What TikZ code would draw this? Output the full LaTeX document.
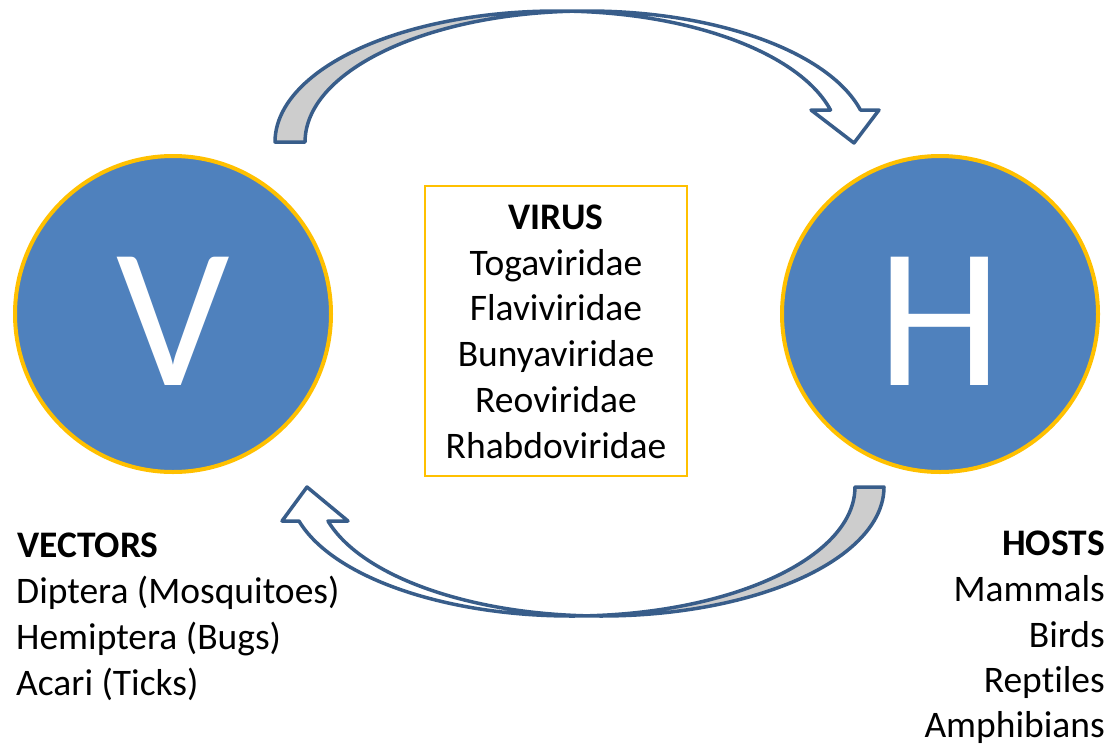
\documentclass[tikz,border=0pt]{standalone}
\usepackage{fontspec}
\setmainfont{Carlito}[Ligatures=NoCommon]
\definecolor{cblue}{RGB}{79,129,189}
\definecolor{cgold}{RGB}{255,192,0}
\definecolor{astroke}{RGB}{56,93,138}
\definecolor{agray}{RGB}{205,205,205}
\begin{document}
\begin{tikzpicture}[x=1pt,y=-1pt,
  circ/.style={circle, fill=cblue, draw=cgold, line width=4pt, minimum size=316pt, inner sep=0pt},
  letter/.style={text=white, font=\fontsize{200}{240}\selectfont, inner sep=0pt, anchor=base},
  txt/.style={font=\fontsize{37.5}{46}\selectfont, inner sep=0pt, text=black},
  head/.style={txt, font=\fontsize{37.5}{46}\selectfont\bfseries},
  framebox/.style={draw=cgold, line width=1.5pt, minimum width=262pt, minimum height=290pt, inner sep=0pt},
  arrowline/.style={draw=astroke, line width=3.5pt, line join=round},
  arrowback/.style={fill=agray}
]
\useasboundingbox (0,0) rectangle (1113,747);

% circles
\node[circ] (V) at (173,314) {};
\node[letter] (Vl) at (173,385) {V};
\node[circ] (H) at (940,314) {};
\node[letter] (Hl) at (940,385) {H};

% virus box
\node[framebox] (box) at (556,331) {};
\node[head, anchor=base] (virus) at (556,229) {VIRUS};
\node[txt, anchor=base] (toga) at (556,275) {Togaviridae};
\node[txt, anchor=base] (flavi) at (556,320.5) {Flaviviridae};
\node[txt, anchor=base] (bunya) at (556,366) {Bunyaviridae};
\node[txt, anchor=base] (reo) at (556,412) {Reoviridae};
\node[txt, anchor=base] (rhabdo) at (556,458) {Rhabdoviridae};

% vectors
\node[head, anchor=base west] (vectors) at (17,557) {VECTORS};
\node[txt, anchor=base west] (dipt) at (16,603) {Diptera (Mosquitoes)};
\node[txt, anchor=base west] (hemi) at (16,649) {Hemiptera (Bugs)};
\node[txt, anchor=base west] (acari) at (16,695) {Acari (Ticks)};

% hosts
\node[head, anchor=base east] (hosts) at (1105,555) {HOSTS};
\node[txt, anchor=base east] (mamm) at (1105,601) {Mammals};
\node[txt, anchor=base east] (birds) at (1105,647) {Birds};
\node[txt, anchor=base east] (rept) at (1105,692) {Reptiles};
\node[txt, anchor=base east] (amph) at (1105,737) {Amphibians};

% top curved arrow (V -> H)
\fill[arrowback] (275,142) arc[start angle=180, end angle=273.05, x radius=282, y radius=131]
  arc[start angle=266.95, end angle=180, x radius=282, y radius=131] -- cycle;
\path[arrowline] (275,142) arc[start angle=180, end angle=273.05, x radius=282, y radius=131]
  arc[start angle=266.95, end angle=345.86, x radius=282, y radius=131]
  -- (879,110) -- (854,143) -- (811,110) -- (830.5,110)
  arc[start angle=345.86, end angle=273.05, x radius=282, y radius=131]
  arc[start angle=266.95, end angle=180, x radius=282, y radius=131] -- cycle;

% bottom curved arrow (H -> V)
\fill[arrowback] (884,487) arc[start angle=0, end angle=92.94, x radius=283, y radius=129]
  arc[start angle=87.06, end angle=0, x radius=283, y radius=129] -- cycle;
\path[arrowline] (884,487) arc[start angle=0, end angle=92.94, x radius=283, y radius=129]
  arc[start angle=87.06, end angle=164.72, x radius=283, y radius=129]
  -- (282,521) -- (307,487) -- (348,521) -- (328,521)
  arc[start angle=164.72, end angle=92.94, x radius=283, y radius=129]
  arc[start angle=87.06, end angle=0, x radius=283, y radius=129] -- cycle;
\end{tikzpicture}
\end{document}
